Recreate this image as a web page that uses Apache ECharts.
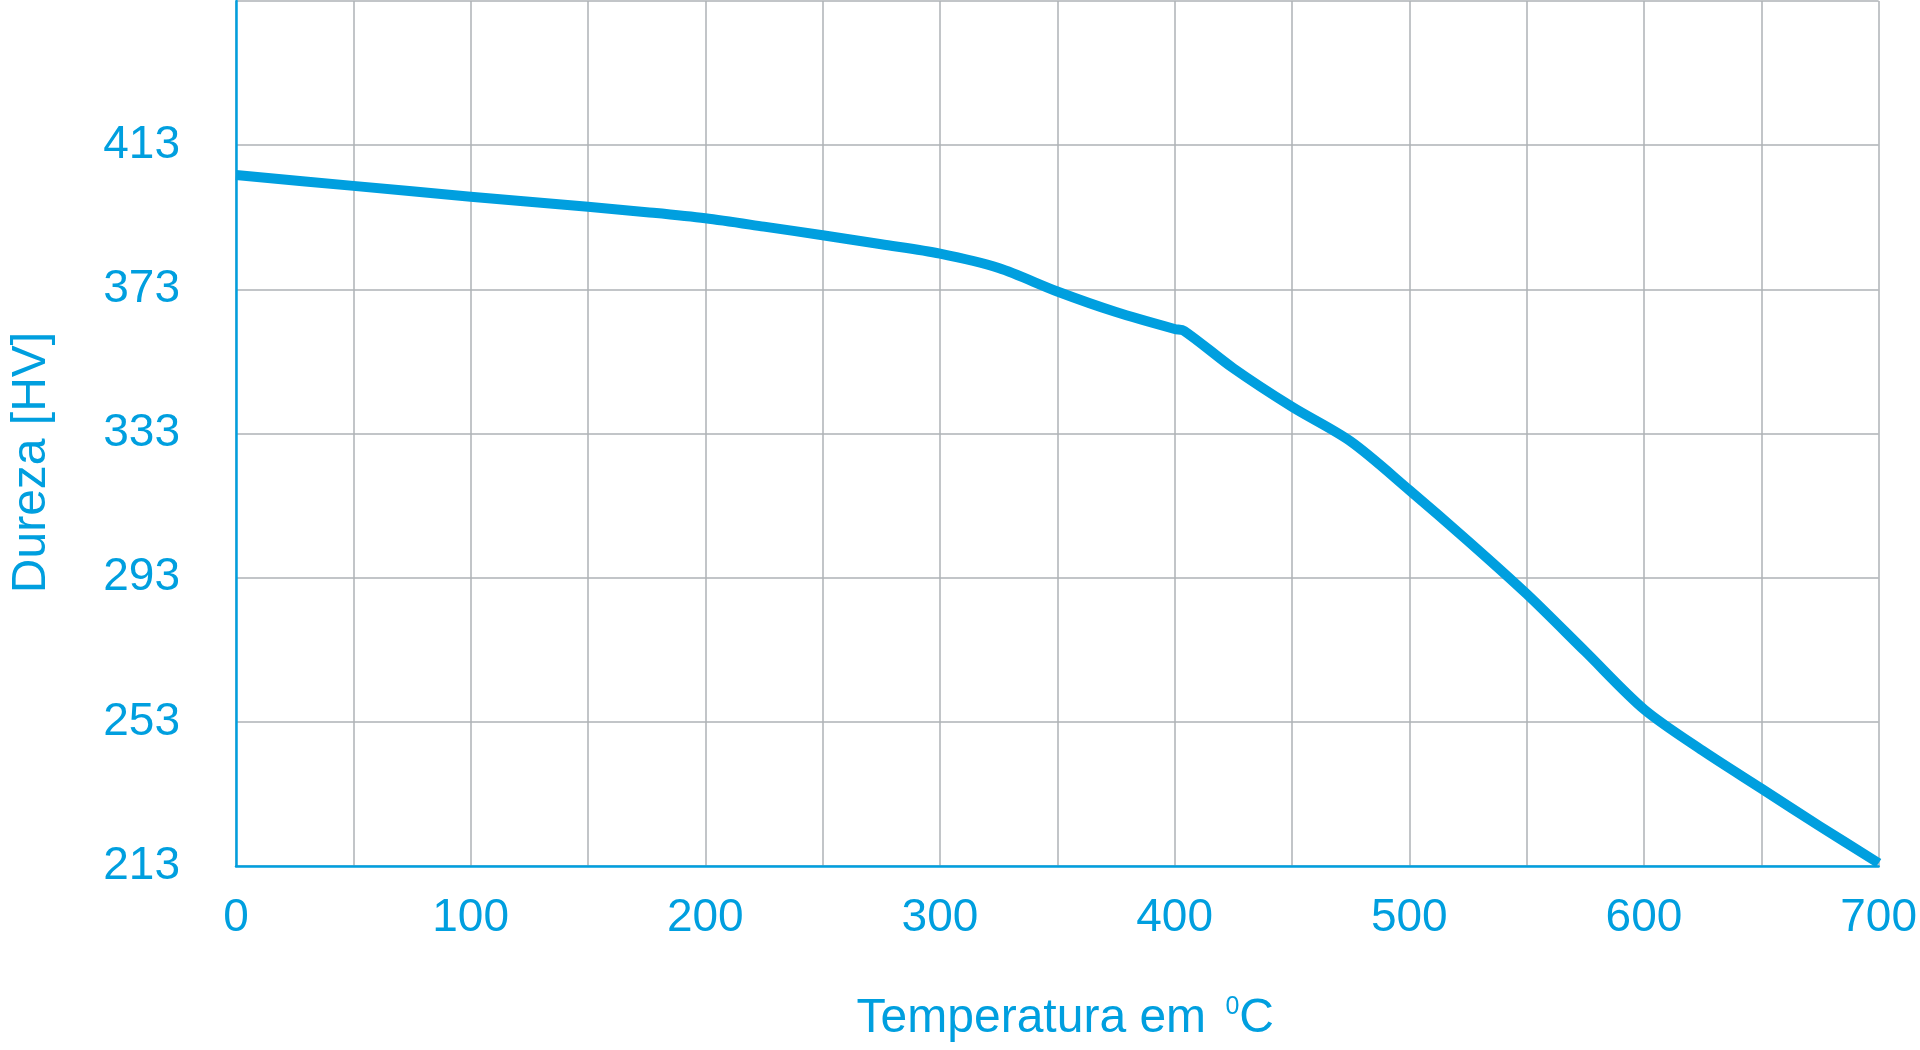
<!DOCTYPE html>
<html>
<head>
<meta charset="utf-8">
<title>Dureza x Temperatura</title>
<script src="https://cdn.jsdelivr.net/npm/echarts@6/dist/echarts.min.js"></script>
<style>
  html, body { margin: 0; padding: 0; background: #ffffff; }
  #chart { width: 1920px; height: 1050px; }
</style>
</head>
<body>
<div id="chart"></div>
<script>
// ---- Data ----
const temperatures = [0, 50, 100, 150, 175, 200, 225, 250, 275, 300, 325, 350, 375, 400, 404, 425, 450, 475, 500, 525, 550, 575, 600, 625, 650, 675, 700];
const hardness     = [404.7, 401.7, 398.7, 395.9, 394.4, 392.7, 390.4, 388.0, 385.5, 382.9, 378.9, 372.4, 366.7, 362.0, 361.5, 351.1, 340.4, 330.8, 317.3, 303.2, 288.5, 272.5, 256.5, 245.0, 234.5, 224.0, 213.8];
const yTickLabels  = [213, 253, 293, 333, 373, 413];
const xTickLabels  = [0, 100, 200, 300, 400, 500, 600, 700];
const yAxisTop     = 453;   // top grid line (unlabelled)
const yStep        = 40;
const xStep        = 50;

// The y scale starts at 213, which is not a multiple of 40, so the axis is
// expressed as "value above 213" and labels add the base back.
const yBase = yTickLabels[0];

const blue = '#009fdf';
const gridGray = '#aeb2b6';
const fontFamily = "'Liberation Sans', Arial, Helvetica, sans-serif";

const chart = echarts.init(document.getElementById('chart'), null, { renderer: 'canvas' });

const option = {
  backgroundColor: '#ffffff',
  animation: false,
  grid: { left: 232, right: 36, top: 1, bottom: 184 },
  xAxis: {
    type: 'value',
    min: xTickLabels[0],
    max: xTickLabels[xTickLabels.length - 1],
    interval: xStep,
    name: 'Temperatura em {s|0}C',
    nameLocation: 'middle',
    nameGap: 129,
    nameTextStyle: {
      color: blue, fontSize: 48, fontFamily: fontFamily, lineHeight: 48,
      padding: [0, 0, 0, 16],
      rich: {
        s: { color: blue, fontSize: 25, fontFamily: fontFamily, lineHeight: 25, verticalAlign: 'top', padding: [0, 0, 0, 6] }
      }
    },
    axisLine: { show: true, lineStyle: { color: blue, width: 2.5 } },
    axisTick: { show: false },
    axisLabel: {
      color: blue, fontSize: 46, fontFamily: fontFamily, margin: 29,
      formatter: function (v) { return xTickLabels.indexOf(v) >= 0 ? String(v) : ''; }
    },
    splitLine: { show: true, lineStyle: { color: gridGray, width: 1.5 } }
  },
  yAxis: {
    type: 'value',
    min: 0,
    max: yAxisTop - yBase,
    interval: yStep,
    name: 'Dureza [HV]',
    nameLocation: 'middle',
    nameGap: 180,
    nameRotate: 90,
    nameTextStyle: {
      color: blue, fontSize: 48, fontFamily: fontFamily, lineHeight: 48,
      padding: [0, 58, 0, 0]
    },
    axisLine: { show: true, lineStyle: { color: blue, width: 2.5 } },
    axisTick: { show: false },
    axisLabel: {
      color: blue, fontSize: 46, fontFamily: fontFamily, margin: 56,
      formatter: function (v) {
        const lbl = Math.round(v + yBase);
        return yTickLabels.indexOf(lbl) >= 0 ? String(lbl) : '';
      }
    },
    splitLine: { show: true, lineStyle: { color: gridGray, width: 1.5 } }
  },
  series: [{
    type: 'line',
    data: temperatures.map(function (t, i) { return [t, hardness[i] - yBase]; }),
    showSymbol: false,
    symbol: 'none',
    smooth: 0.3,
    clip: false,
    lineStyle: { color: blue, width: 10, cap: 'butt', join: 'round' },
    z: 5
  }]
};

chart.setOption(option);
</script>
</body>
</html>
